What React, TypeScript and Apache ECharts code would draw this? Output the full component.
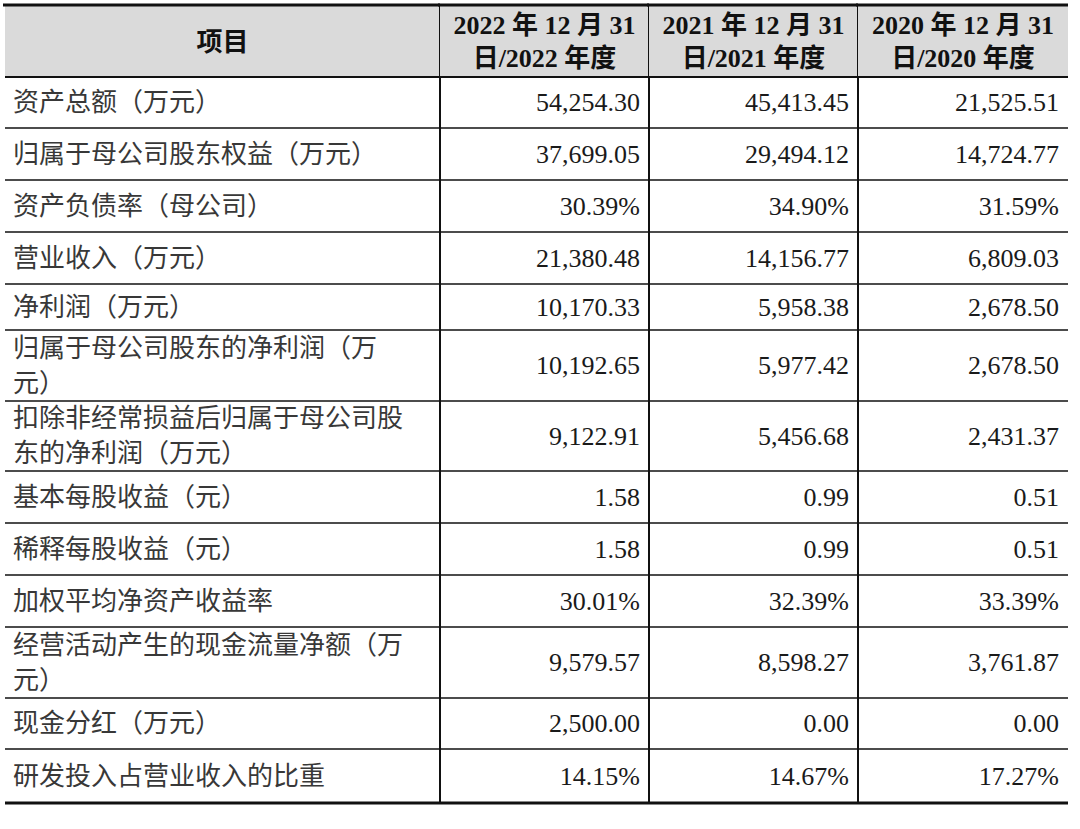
import React, { useEffect, useRef } from "react";
import * as echarts from "echarts";

// ---- data ----
const headerLabels = [
  "项目",
  "2022 年 12 月 31\n日/2022 年度",
  "2021 年 12 月 31\n日/2021 年度",
  "2020 年 12 月 31\n日/2020 年度",
];
const itemLabels = [
  "资产总额（万元）",
  "归属于母公司股东权益（万元）",
  "资产负债率（母公司）",
  "营业收入（万元）",
  "净利润（万元）",
  "归属于母公司股东的净利润（万\n元）",
  "扣除非经常损益后归属于母公司股\n东的净利润（万元）",
  "基本每股收益（元）",
  "稀释每股收益（元）",
  "加权平均净资产收益率",
  "经营活动产生的现金流量净额（万\n元）",
  "现金分红（万元）",
  "研发投入占营业收入的比重",
];
const values2022 = [54254.3, 37699.05, 30.39, 21380.48, 10170.33, 10192.65, 9122.91, 1.58, 1.58, 30.01, 9579.57, 2500.0, 14.15];
const values2021 = [45413.45, 29494.12, 34.9, 14156.77, 5958.38, 5977.42, 5456.68, 0.99, 0.99, 32.39, 8598.27, 0.0, 14.67];
const values2020 = [21525.51, 14724.77, 31.59, 6809.03, 2678.5, 2678.5, 2431.37, 0.51, 0.51, 33.39, 3761.87, 0.0, 17.27];
const percentRows = [2, 9, 12];

// ---- layout (table grid edges, in page units) ----
const colEdges = [5, 440, 649, 858, 1068];
const rowEdges = [5, 77, 128, 180, 232, 284, 330, 401, 471, 523, 575, 627, 698, 749, 803];

const FONT = "'Liberation Serif', 'Noto Sans CJK SC', serif";

function fmt(v: number, row: number): string {
  const s = v.toLocaleString("en-US", { minimumFractionDigits: 2, maximumFractionDigits: 2 });
  return percentRows.includes(row) ? s + "%" : s;
}

export default function App() {
  const ref = useRef<HTMLDivElement>(null);
  useEffect(() => {
    if (!ref.current) return;
    const chart = echarts.init(ref.current, undefined, { renderer: "svg" });
    const yearCols = [values2022, values2021, values2020];
    const cells: number[][] = [];
    const nRows = itemLabels.length + 1;
    for (let r = 0; r < nRows; r++) for (let c = 0; c < 4; c++) cells.push([c, r]);

    const textOf = (c: number, r: number): string => {
      if (r === 0) return headerLabels[c];
      if (c === 0) return itemLabels[r - 1];
      return fmt(yearCols[c - 1][r - 1], r - 1);
    };

    chart.setOption({
      animation: false,
      backgroundColor: "#ffffff",
      grid: { left: 0, right: 0, top: 0, bottom: 0 },
      xAxis: { type: "value", min: 0, max: 1080, show: false },
      yAxis: { type: "value", min: 0, max: 829, inverse: true, show: false },
      series: [
        {
          type: "custom",
          clip: false,
          data: cells,
          renderItem: (params: any, api: any) => {
            const c = api.value(0);
            const r = api.value(1);
            const p0 = api.coord([colEdges[c], rowEdges[r]]);
            const p1 = api.coord([colEdges[c + 1], rowEdges[r + 1]]);
            const x0 = p0[0], y0 = p0[1], x1 = p1[0], y1 = p1[1];
            const children: any[] = [];
            if (r === 0) {
              children.push({
                type: "rect",
                shape: { x: x0, y: y0, width: x1 - x0, height: y1 - y0 },
                style: { fill: "#dadada" },
              });
            }
            const isHeader = r === 0;
            const text = textOf(c, r);
            let tx: number, align: string;
            if (isHeader) {
              tx = (x0 + x1) / 2;
              align = "center";
            } else if (c === 0) {
              tx = x0 + 8;
              align = "left";
            } else {
              tx = x1 - 9;
              align = "right";
            }
            children.push({
              type: "text",
              x: tx,
              y: (y0 + y1) / 2 + (isHeader ? 1 : 0),
              style: {
                text,
                align,
                verticalAlign: "middle",
                fontFamily: FONT,
                fontSize: 26,
                fontWeight: isHeader ? "bold" : "normal",
                lineHeight: isHeader ? 33 : 35,
                fill: isHeader ? "#111111" : c === 0 ? "#383838" : "#1a1a1a",
              },
            });
            // borders
            const lastRow = r === nRows - 1;
            const bw = lastRow ? 3 : r === 0 ? 2 : 1.6;
            children.push({
              type: "line",
              shape: { x1: x0, y1: y1, x2: x1, y2: y1 },
              style: { stroke: "#111111", lineWidth: bw },
            });
            if (r === 0) {
              children.push({
                type: "line",
                shape: { x1: x0 - 2, y1: y0, x2: x1, y2: y0 },
                style: { stroke: "#111111", lineWidth: 3 },
              });
            }
            if (c < 3) {
              children.push({
                type: "line",
                shape: { x1: x1, y1: y0, x2: x1, y2: y1 },
                style: { stroke: "#111111", lineWidth: 2 },
              });
            }
            return { type: "group", children };
          },
        },
      ],
    });
    return () => chart.dispose();
  }, []);
  return (
    <div
      ref={ref}
      style={{ position: "fixed", left: 0, top: 0, width: 1080, height: 829, background: "#fff" }}
    />
  );
}
